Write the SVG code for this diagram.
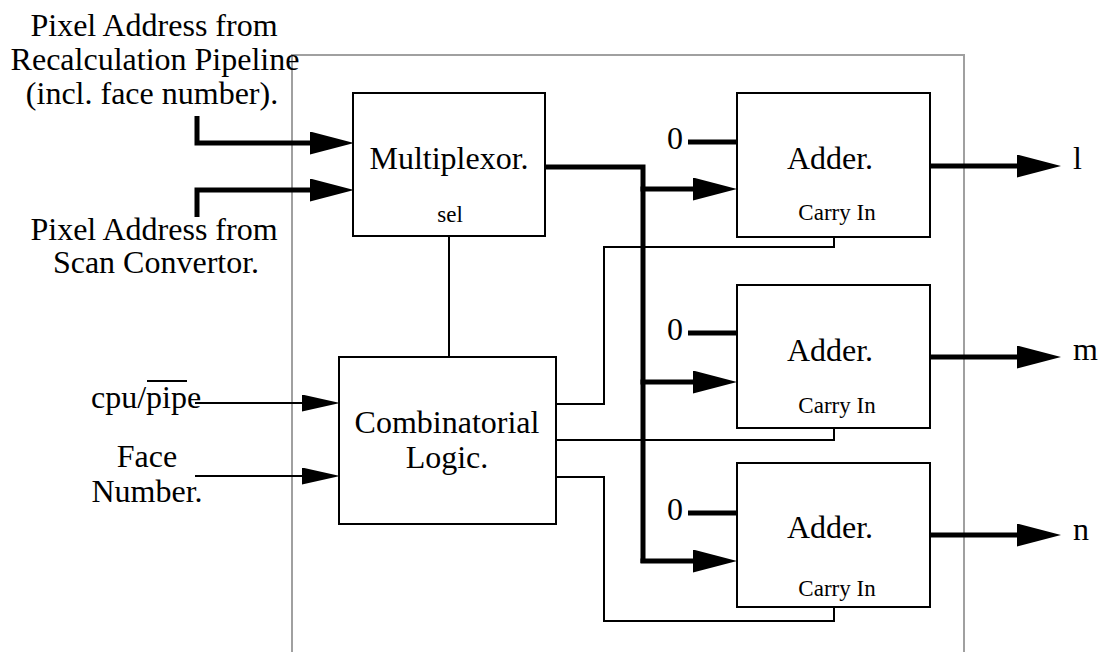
<svg xmlns="http://www.w3.org/2000/svg" width="1104" height="652" viewBox="0 0 1104 652">
  <style>
    .box { fill: #ffffff; stroke: #000000; stroke-width: 2; }
    .frame { fill: none; stroke: #a0a0a0; stroke-width: 2; }
    .wire { fill: none; stroke: #000000; stroke-width: 2; }
    .bus { fill: none; stroke: #000000; stroke-width: 5; }
    text { font-family: 'Liberation Serif', 'DejaVu Serif', serif; fill: #000000; }
    .big { font-size: 32px; }
    .small { font-size: 23px; }
    .mid { text-anchor: middle; }
  </style>
  <defs>
    <!-- heavy arrowhead for data buses; starts where the line ends -->
    <marker id="busHead" markerUnits="userSpaceOnUse" markerWidth="44" markerHeight="24" refX="0" refY="11.5" orient="auto">
      <path d="M0,0 L44,11.5 L0,23 Z" fill="#000000"/>
    </marker>
    <!-- light arrowhead for control signals -->
    <marker id="wireHead" markerUnits="userSpaceOnUse" markerWidth="38" markerHeight="18" refX="0" refY="8.5" orient="auto">
      <path d="M0,0 L38,8.5 L0,17 Z" fill="#000000"/>
    </marker>
  </defs>

  <!-- enclosing unit outline -->
  <rect class="frame" x="292" y="55" width="672" height="640"/>

  <!-- external labels -->
  <g id="label-pipeline">
    <text class="big mid" x="154" y="36">Pixel Address from</text>
    <text class="big mid" x="155" y="70">Recalculation Pipeline</text>
    <text class="big mid" x="152" y="104">(incl. face number).</text>
  </g>
  <g id="label-scan">
    <text class="big mid" x="154" y="240">Pixel Address from</text>
    <text class="big mid" x="156" y="273">Scan Convertor.</text>
  </g>
  <g id="label-cpupipe">
    <text class="big" x="91" y="408">cpu/pipe</text>
    <line x1="147" y1="381" x2="187" y2="381" stroke="#000000" stroke-width="2"/>
  </g>
  <g id="label-face">
    <text class="big mid" x="147" y="467">Face</text>
    <text class="big mid" x="147" y="502">Number.</text>
  </g>
  <g id="label-l"><text class="big" x="1073" y="169">l</text></g>
  <g id="label-m"><text class="big" x="1073" y="360">m</text></g>
  <g id="label-n"><text class="big" x="1073" y="540">n</text></g>

  <!-- connectors -->
  <g id="connectors">
    <!-- address inputs to multiplexor -->
    <path class="bus" d="M197,116 V143 H310" marker-end="url(#busHead)"/>
    <path class="bus" d="M197,217 V190 H310" marker-end="url(#busHead)"/>
    <!-- multiplexor output bus fanned out to the adders -->
    <path class="bus" d="M545,167 H643 V563"/>
    <path class="bus" d="M640.5,189 H693" marker-end="url(#busHead)"/>
    <path class="bus" d="M640.5,382 H693" marker-end="url(#busHead)"/>
    <path class="bus" d="M640.5,561 H693" marker-end="url(#busHead)"/>
    <!-- constant zero operands -->
    <line class="bus" x1="688" y1="142" x2="739" y2="142"/>
    <line class="bus" x1="688" y1="333" x2="739" y2="333"/>
    <line class="bus" x1="688" y1="513" x2="739" y2="513"/>
    <!-- adder outputs -->
    <path class="bus" d="M930,166 H1017" marker-end="url(#busHead)"/>
    <path class="bus" d="M930,357 H1017" marker-end="url(#busHead)"/>
    <path class="bus" d="M930,535 H1017" marker-end="url(#busHead)"/>
    <!-- control inputs -->
    <path class="wire" d="M195,403 H302" marker-end="url(#wireHead)"/>
    <path class="wire" d="M195,476 H302" marker-end="url(#wireHead)"/>
    <!-- select line -->
    <line class="wire" x1="449" y1="236" x2="449" y2="357"/>
    <!-- carry-in lines -->
    <path class="wire" d="M556,404 H604 V247 H834 V237"/>
    <path class="wire" d="M556,440 H834 V428"/>
    <path class="wire" d="M556,477 H604 V621 H834 V607"/>
  </g>

  <!-- blocks -->
  <g id="multiplexor">
    <rect class="box" x="353" y="93" width="192" height="143"/>
    <text class="big mid" x="449" y="169">Multiplexor.</text>
    <text class="small mid" x="450" y="222">sel</text>
  </g>
  <g id="combinatorial-logic">
    <rect class="box" x="339" y="357" width="217" height="167"/>
    <text class="big mid" x="447" y="433">Combinatorial</text>
    <text class="big mid" x="447" y="468">Logic.</text>
  </g>
  <g id="adder-l">
    <rect class="box" x="737" y="93" width="193" height="144"/>
    <text class="big mid" x="675" y="149">0</text>
    <text class="big mid" x="830" y="169">Adder.</text>
    <text class="small mid" x="837" y="220">Carry In</text>
  </g>
  <g id="adder-m">
    <rect class="box" x="737" y="285" width="193" height="143"/>
    <text class="big mid" x="675" y="340">0</text>
    <text class="big mid" x="830" y="361">Adder.</text>
    <text class="small mid" x="837" y="413">Carry In</text>
  </g>
  <g id="adder-n">
    <rect class="box" x="737" y="463" width="193" height="144"/>
    <text class="big mid" x="675" y="520">0</text>
    <text class="big mid" x="830" y="538">Adder.</text>
    <text class="small mid" x="837" y="596">Carry In</text>
  </g>
</svg>
